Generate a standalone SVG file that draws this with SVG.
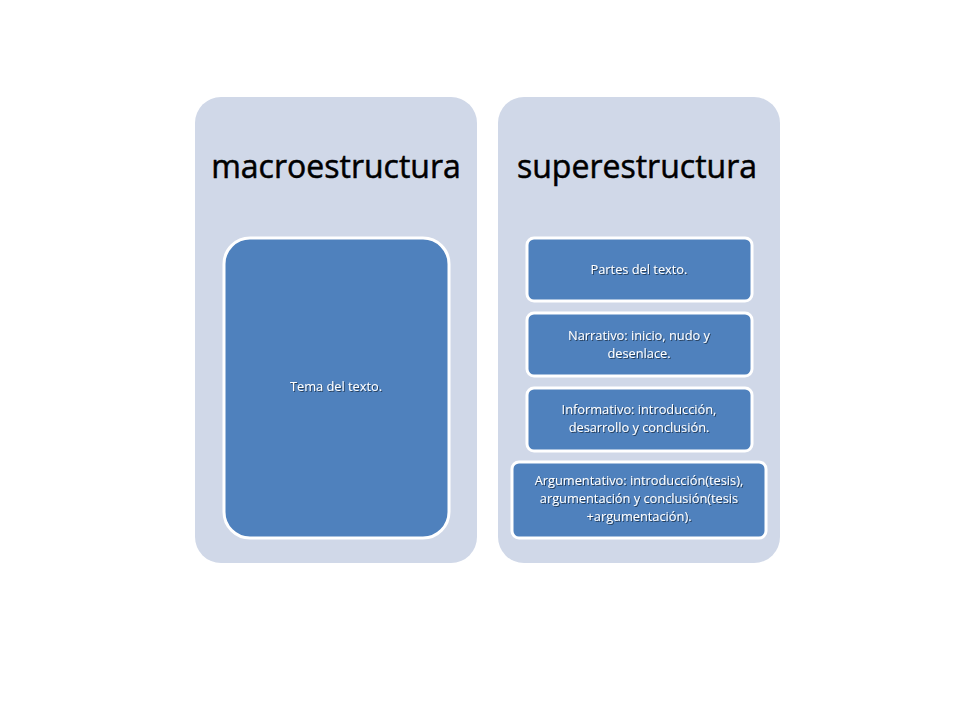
<svg xmlns="http://www.w3.org/2000/svg" width="960" height="720" viewBox="0 0 960 720">
<defs>
<filter id="sh" x="-10%" y="-10%" width="120%" height="130%"><feDropShadow dx="1" dy="1" stdDeviation="0.6" flood-color="#000" flood-opacity="0.5"/></filter>
</defs>
<style>
.panel{fill:#D0D8E8}
.box{fill:#4F81BD;stroke:#FFFFFF;stroke-width:3}
.title{font-family:"Open Sans","Liberation Sans",sans-serif;font-size:32px;fill:#000;stroke:#000;stroke-width:0.5;text-anchor:middle}
.lbl{font-family:"Open Sans","Liberation Sans",sans-serif;font-size:12.8px;fill:#FFFFFF;text-anchor:middle;filter:url(#sh)}
</style>
<rect width="960" height="720" fill="#FFFFFF"/>
<g id="macroestructura">
<rect class="panel" x="195" y="97" width="282" height="466" rx="26"/>
<text class="title" x="336" y="178">macroestructura</text>
</g>
<g id="tema">
<rect class="box" x="224" y="238" width="225" height="300" rx="26"/>
<text class="lbl" x="336" y="391">Tema del texto.</text>
</g>
<g id="superestructura">
<rect class="panel" x="498" y="97" width="282" height="466" rx="26"/>
<text class="title" x="637" y="178">superestructura</text>
</g>
<g id="partes">
<rect class="box" x="527" y="238" width="225" height="63" rx="7"/>
<text class="lbl" x="639" y="274">Partes del texto.</text>
</g>
<g id="narrativo">
<rect class="box" x="527" y="313" width="225" height="63" rx="7"/>
<text class="lbl" x="639" y="340">Narrativo: inicio, nudo y</text>
<text class="lbl" x="639" y="358">desenlace.</text>
</g>
<g id="informativo">
<rect class="box" x="527" y="388" width="225" height="63" rx="7"/>
<text class="lbl" x="639" y="414">Informativo: introducción,</text>
<text class="lbl" x="639" y="432">desarrollo y conclusión.</text>
</g>
<g id="argumentativo">
<rect class="box" x="512" y="462" width="254" height="76" rx="7"/>
<text class="lbl" x="639" y="485">Argumentativo: introducción(tesis),</text>
<text class="lbl" x="639" y="503">argumentación y conclusión(tesis</text>
<text class="lbl" x="639" y="521">+argumentación).</text>
</g>
<g id="connectors"></g>
</svg>
